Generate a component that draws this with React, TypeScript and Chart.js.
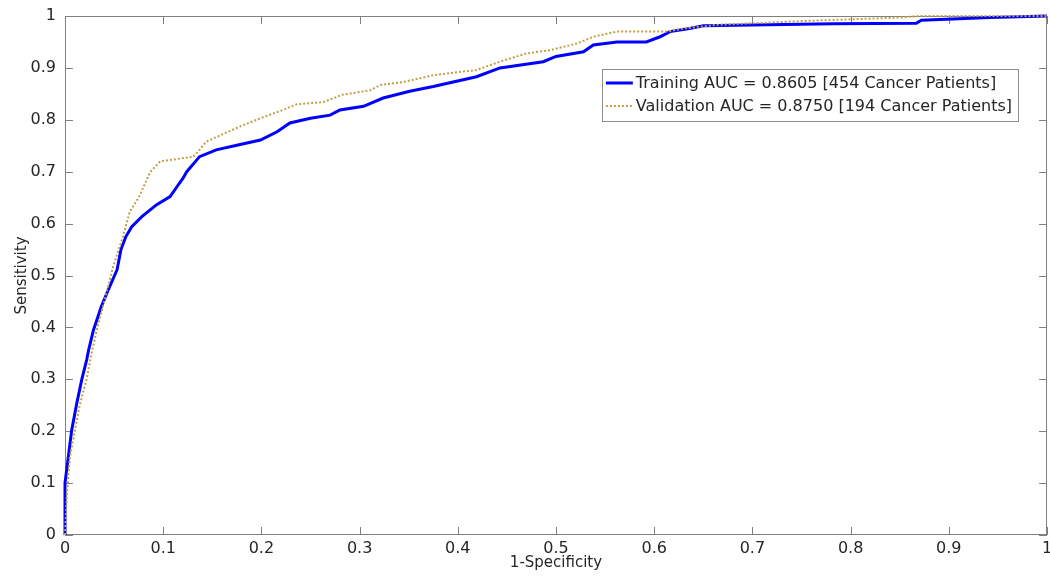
import React, { useEffect, useRef } from 'react';
import { Chart, registerables } from 'chart.js';

Chart.register(...registerables);

// ---- data ----
const tickLabels = ['0', '0.1', '0.2', '0.3', '0.4', '0.5', '0.6', '0.7', '0.8', '0.9', '1'];

const trainFPR = [
  0, 0, 0.0034, 0.0068, 0.012, 0.017, 0.022, 0.024, 0.029, 0.037, 0.044, 0.053, 0.057, 0.062,
  0.068, 0.078, 0.093, 0.107, 0.114, 0.12, 0.124, 0.137, 0.154, 0.175, 0.199, 0.216, 0.229,
  0.25, 0.27, 0.28, 0.304, 0.324, 0.351, 0.375, 0.419, 0.443, 0.487, 0.5, 0.528, 0.538, 0.562,
  0.592, 0.606, 0.616, 0.636, 0.65, 0.782, 0.867, 0.872, 0.942, 1,
];
const trainTPR = [
  0, 0.1, 0.151, 0.202, 0.254, 0.299, 0.337, 0.356, 0.395, 0.44, 0.472, 0.511, 0.55, 0.575,
  0.594, 0.613, 0.636, 0.652, 0.671, 0.687, 0.7, 0.729, 0.742, 0.751, 0.761, 0.777, 0.794,
  0.803, 0.809, 0.819, 0.826, 0.842, 0.855, 0.864, 0.883, 0.9, 0.912, 0.922, 0.931, 0.944, 0.95,
  0.95, 0.96, 0.97, 0.976, 0.981, 0.985, 0.986, 0.992, 0.997, 1,
];

const valFPR = [
  0, 0.002, 0.005, 0.01, 0.015, 0.022, 0.027, 0.033, 0.04, 0.049, 0.059, 0.066, 0.075, 0.087,
  0.097, 0.131, 0.144, 0.178, 0.199, 0.222, 0.236, 0.263, 0.282, 0.311, 0.321, 0.345, 0.375,
  0.419, 0.443, 0.47, 0.494, 0.521, 0.538, 0.562, 0.613, 0.63, 0.664, 0.7, 0.748, 0.85, 0.87, 1,
];
const valTPR = [
  0, 0.08, 0.15, 0.2, 0.25, 0.3, 0.35, 0.4, 0.45, 0.517, 0.575, 0.623, 0.65, 0.7,
  0.72, 0.729, 0.758, 0.787, 0.803, 0.819, 0.83, 0.834, 0.848, 0.857, 0.867, 0.873, 0.886,
  0.896, 0.912, 0.928, 0.934, 0.947, 0.96, 0.97, 0.97, 0.976, 0.983, 0.986, 0.99, 0.997, 1, 1,
];

const seriesLabels = [
  'Training AUC = 0.8605 [454 Cancer Patients]',
  'Validation AUC = 0.8750 [194 Cancer Patients]',
];
const xTitle = '1-Specificity';
const yTitle = 'Sensitivity';

const FONT = "'DejaVu Sans', 'Liberation Sans', Arial, sans-serif";
const TEXT = '#262626';
const AXIS = '#808080';
const TRAIN_COLOR = '#0000ff';
const VAL_COLOR = '#bfa046';

const framePlugin = {
  id: 'matlabFrame',
  beforeDatasetsDraw(chart: any) {
    const { ctx, chartArea, scales } = chart;
    const { left, right, top, bottom } = chartArea;
    const x = scales.x;
    const y = scales.y;
    ctx.save();
    ctx.strokeStyle = AXIS;
    ctx.lineWidth = 1;
    ctx.strokeRect(left + 0.5, top + 0.5, right - left - 1, bottom - top - 1);
    const len = 8;
    ctx.beginPath();
    x.ticks.forEach((t: any) => {
      const px = Math.round(x.getPixelForValue(t.value)) + 0.5;
      ctx.moveTo(px, bottom);
      ctx.lineTo(px, bottom - len);
      ctx.moveTo(px, top);
      ctx.lineTo(px, top + len);
    });
    y.ticks.forEach((t: any) => {
      const py = Math.round(y.getPixelForValue(t.value)) + 0.5;
      ctx.moveTo(left, py);
      ctx.lineTo(left + len, py);
      ctx.moveTo(right, py);
      ctx.lineTo(right - len, py);
    });
    ctx.stroke();
    ctx.restore();
  },
};

const legendPlugin = {
  id: 'matlabLegend',
  afterDatasetsDraw(chart: any) {
    const { ctx, chartArea } = chart;
    ctx.save();
    ctx.font = `16px ${FONT}`;
    const widths = chart.data.datasets.map((d: any) => ctx.measureText(d.label).width);
    const textW = Math.max(...widths);
    const boxW = textW + 40;
    const boxH = 52;
    const boxRight = chartArea.right - 29;
    const boxLeft = boxRight - boxW;
    const boxTop = chartArea.top + 53;
    ctx.fillStyle = '#ffffff';
    ctx.fillRect(boxLeft, boxTop, boxW, boxH);
    ctx.strokeStyle = '#8c8c8c';
    ctx.lineWidth = 1;
    ctx.strokeRect(Math.round(boxLeft) + 0.5, boxTop + 0.5, Math.round(boxW), boxH);
    chart.data.datasets.forEach((d: any, i: number) => {
      const cy = boxTop + 14 + i * 23;
      ctx.beginPath();
      ctx.strokeStyle = d.borderColor;
      ctx.lineWidth = d.borderWidth;
      ctx.setLineDash(d.borderDash || []);
      ctx.moveTo(boxLeft + 4, cy);
      ctx.lineTo(boxLeft + 31, cy);
      ctx.stroke();
      ctx.setLineDash([]);
      ctx.fillStyle = TEXT;
      ctx.textBaseline = 'middle';
      ctx.textAlign = 'left';
      ctx.fillText(d.label, boxLeft + 34, cy + 1);
    });
    ctx.restore();
  },
};

export default function App() {
  const ref = useRef<HTMLCanvasElement | null>(null);

  useEffect(() => {
    if (!ref.current) return;
    const chart = new Chart(ref.current, {
      type: 'line',
      data: {
        datasets: [
          {
            label: seriesLabels[0],
            data: trainFPR.map((v, i) => ({ x: v, y: trainTPR[i] })),
            borderColor: TRAIN_COLOR,
            backgroundColor: TRAIN_COLOR,
            borderWidth: 3,
            pointRadius: 0,
            tension: 0,
            clip: false,
            order: 2,
          },
          {
            label: seriesLabels[1],
            data: valFPR.map((v, i) => ({ x: v, y: valTPR[i] })),
            borderColor: VAL_COLOR,
            backgroundColor: VAL_COLOR,
            borderWidth: 2,
            borderDash: [2, 2],
            pointRadius: 0,
            tension: 0,
            clip: false,
            order: 1,
          },
        ],
      },
      options: {
        animation: false,
        responsive: false,
        maintainAspectRatio: false,
        layout: { padding: { left: 0, right: 3, top: 16, bottom: 0 } },
        plugins: {
          legend: { display: false },
          tooltip: { enabled: false },
        },
        scales: {
          x: {
            type: 'linear',
            min: 0,
            max: 1,
            grid: { display: false, drawTicks: false },
            border: { display: false },
            ticks: {
              stepSize: 0.1,
              padding: 4,
              color: TEXT,
              font: { family: FONT, size: 16 },
              maxRotation: 0,
              autoSkip: false,
              callback: (_v: any, i: number) => tickLabels[i],
            },
            title: {
              display: true,
              text: xTitle,
              color: TEXT,
              font: { family: FONT, size: 15 },
              padding: { top: 0, bottom: 4 },
            },
            afterFit: (s: any) => {
              s.height = 41;
              s.paddingLeft = 0;
              s.paddingRight = 0;
            },
          },
          y: {
            type: 'linear',
            min: 0,
            max: 1,
            grid: { display: false, drawTicks: false },
            border: { display: false },
            ticks: {
              stepSize: 0.1,
              padding: 9,
              color: TEXT,
              font: { family: FONT, size: 16 },
              autoSkip: false,
              callback: (_v: any, i: number) => tickLabels[i],
            },
            title: {
              display: true,
              text: yTitle,
              color: TEXT,
              font: { family: FONT, size: 15 },
              padding: { top: 13, bottom: 0 },
            },
            afterFit: (s: any) => {
              s.width = 65;
              s.paddingTop = 0;
              s.paddingBottom = 0;
            },
          },
        },
      },
      plugins: [framePlugin, legendPlugin],
    });
    return () => chart.destroy();
  }, []);

  return (
    <div style={{ position: 'absolute', left: 0, top: 0, width: 1050, height: 576, background: '#fff' }}>
      <canvas ref={ref} width={1050} height={576} style={{ width: 1050, height: 576, display: 'block' }} />
    </div>
  );
}
